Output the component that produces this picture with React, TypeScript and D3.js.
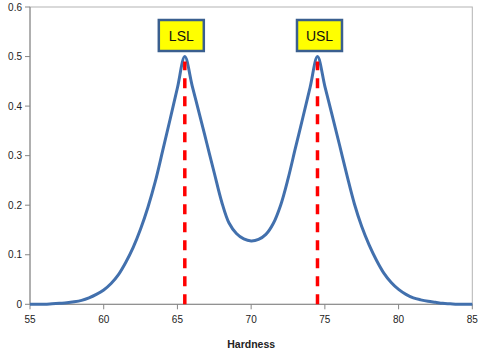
import React from "react";
import * as d3 from "d3";

const hardness = [
  55, 55.5, 56, 56.5, 57, 57.5, 58, 58.5, 59, 59.5, 60, 60.5, 61, 61.5, 62, 62.5, 63, 63.5, 64, 64.5,
  65, 65.5, 66, 66.5, 67, 67.5, 68, 68.5, 69, 69.5, 70, 70.5, 71, 71.5, 72, 72.5, 73, 73.5, 74, 74.5,
  75, 75.5, 76, 76.5, 77, 77.5, 78, 78.5, 79, 79.5, 80, 80.5, 81, 81.5, 82, 82.5, 83, 83.5, 84, 84.5, 85,
];
const density = [
  0.0, 0.0, 0.0, 0.001, 0.002, 0.003, 0.005, 0.008, 0.013, 0.02, 0.029, 0.042, 0.06, 0.085, 0.115, 0.152, 0.196, 0.248, 0.31, 0.373,
  0.437, 0.5, 0.441, 0.383, 0.324, 0.265, 0.207, 0.164, 0.143, 0.132, 0.128, 0.131, 0.141, 0.163, 0.2, 0.253, 0.315, 0.376, 0.438, 0.5,
  0.44, 0.381, 0.321, 0.26, 0.203, 0.157, 0.12, 0.089, 0.063, 0.044, 0.03, 0.02, 0.013, 0.009, 0.006, 0.004, 0.002, 0.001, 0.0, 0.0, 0.0,
];
const specNames = ["LSL", "USL"];
const specValues = [65.5, 74.5];
const xTicks = [55, 60, 65, 70, 75, 80, 85];
const yTicks = [0, 0.1, 0.2, 0.3, 0.4, 0.5, 0.6];
const xTitle = "Hardness";

export default function App() {
  const W = 485, H = 355;
  const left = 30, right = 472.3, top = 7, bottom = 304.3;
  const x = d3.scaleLinear().domain([55, 85]).range([left, right]);
  const y = d3.scaleLinear().domain([0, 0.6]).range([bottom, top]);
  const pts = hardness.map((h, i) => [h, density[i]] as [number, number]);
  const line = d3
    .line<[number, number]>()
    .x((d) => x(d[0]))
    .y((d) => y(d[1]))
    .curve(d3.curveCatmullRom.alpha(0.5));
  const font = "'Liberation Sans', Arial, sans-serif";
  const boxOffsets = [-3.5, 2];
  return (
    <div style={{ position: "absolute", left: 0, top: 0 }}>
      <svg width={W} height={H} style={{ display: "block", background: "#fff" }}>
        <rect x={left} y={top} width={right - left} height={bottom - top} fill="none" stroke="#b3b3b3" strokeWidth={1} />
        <line x1={left} x2={left} y1={top} y2={bottom} stroke="#868686" strokeWidth={1} />
        <line x1={left} x2={right} y1={bottom} y2={bottom} stroke="#868686" strokeWidth={1} />
        {yTicks.map((t) => (
          <g key={"y" + t}>
            <line x1={left - 5} x2={left} y1={y(t)} y2={y(t)} stroke="#868686" />
            <text x={left - 8} y={y(t)} dy="0.35em" textAnchor="end" fontSize={10} fontFamily={font} fill="#222">
              {t === 0 ? "0" : d3.format(".1f")(t)}
            </text>
          </g>
        ))}
        {xTicks.map((t) => (
          <g key={"x" + t}>
            <line x1={x(t)} x2={x(t)} y1={bottom} y2={bottom + 5} stroke="#868686" />
            <text x={x(t)} y={bottom + 19} textAnchor="middle" fontSize={10} fontFamily={font} fill="#222">
              {t}
            </text>
          </g>
        ))}
        <text x={(left + right) / 2} y={348} textAnchor="middle" fontSize={10.5} fontWeight="bold" fontFamily={font} fill="#222">
          {xTitle}
        </text>
        <path d={line(pts) || ""} fill="none" stroke="#4270ad" strokeWidth={3} strokeLinejoin="round" />
        {specValues.map((s, i) => (
          <line key={"s" + i} x1={x(s)} x2={x(s)} y1={bottom} y2={y(0.49)} stroke="#ff0000" strokeWidth={3.5} strokeDasharray="10 8" />
        ))}
        {specValues.map((s, i) => {
          const cx = x(s) + boxOffsets[i];
          return (
            <g key={"b" + i}>
              <rect x={cx - 22.5} y={20} width={45} height={31} fill="#ffff00" stroke="#3a5f8f" strokeWidth={2.5} />
              <text x={cx} y={36} dy="0.35em" textAnchor="middle" fontSize={14} fontFamily={font} fill="#111">
                {specNames[i]}
              </text>
            </g>
          );
        })}
      </svg>
    </div>
  );
}
